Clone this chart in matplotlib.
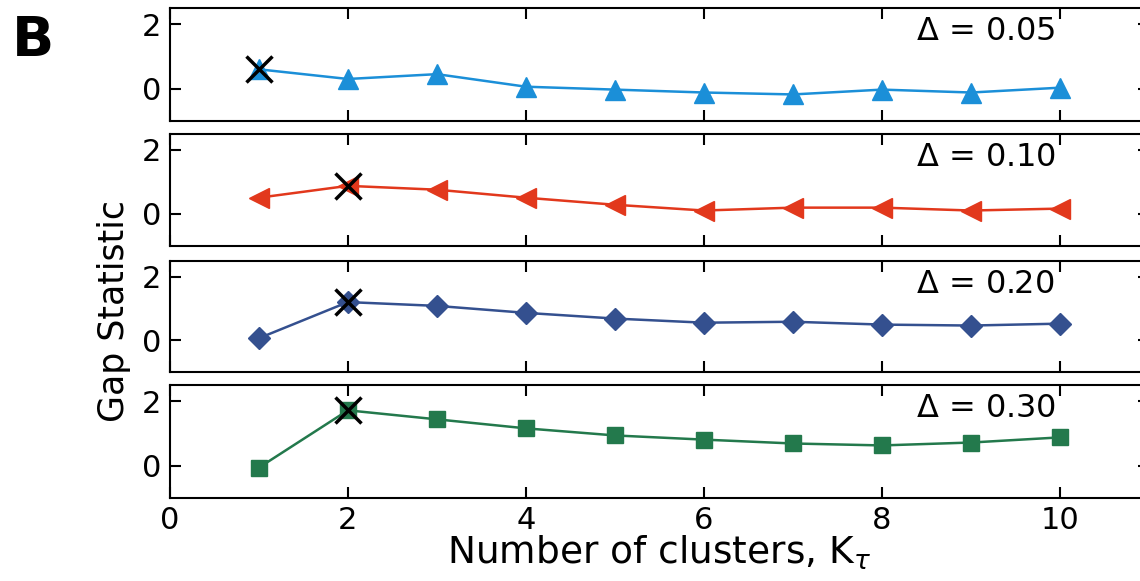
import matplotlib
matplotlib.use("Agg")
import matplotlib.pyplot as plt

plt.rcParams['font.family'] = ['DejaVu Sans']

# --- data ---
k = [1, 2, 3, 4, 5, 6, 7, 8, 9, 10]
gap_005 = [0.60, 0.30, 0.45, 0.06, -0.03, -0.12, -0.18, -0.03, -0.12, 0.03]
gap_010 = [0.50, 0.87, 0.75, 0.50, 0.28, 0.10, 0.19, 0.19, 0.10, 0.16]
gap_020 = [0.06, 1.20, 1.08, 0.86, 0.68, 0.55, 0.58, 0.49, 0.46, 0.52]
gap_030 = [-0.06, 1.72, 1.44, 1.16, 0.94, 0.81, 0.69, 0.63, 0.72, 0.88]
best_k = [1, 2, 2, 2]
deltas = ['0.05', '0.10', '0.20', '0.30']

series = [gap_005, gap_010, gap_020, gap_030]
colors = ['#1b8fd8', '#e2381c', '#34508f', '#23794c']
markers = ['^', '<', 'D', 's']
msizes = [14, 14, 11, 12]

fig = plt.figure(figsize=(11.4, 5.81), dpi=100)

# panel boxes (left, bottom, width, height) - right side runs off the figure like the original crop
boxes = [
    (0.149, 0.792, 0.859, 0.194),
    (0.149, 0.577, 0.859, 0.193),
    (0.149, 0.360, 0.859, 0.191),
    (0.149, 0.143, 0.859, 0.194),
]

for i, (vals, col, mk, ms, box) in enumerate(zip(series, colors, markers, msizes, boxes)):
    ax = fig.add_axes(box)
    ax.plot(k, vals, color=col, marker=mk, markersize=ms, linewidth=1.8,
            markeredgecolor=col)
    b = best_k[i]
    ax.plot(b, vals[k.index(b)], marker='x', color='black', markersize=19,
            markeredgewidth=2.5, linestyle='none')
    ax.set_xlim(0, 11)
    ax.set_ylim(-1, 2.5)
    ax.set_yticks([0, 2])
    ax.set_xticks([0, 2, 4, 6, 8, 10])
    ax.tick_params(direction='in', length=8, width=1.5, top=True, right=True,
                   labelsize=22, pad=6)
    if i < 3:
        ax.tick_params(labelbottom=False)
    for s in ax.spines.values():
        s.set_linewidth(1.5)
    ax.text(0.762, 0.79, r'$\Delta$ = ' + deltas[i], transform=ax.transAxes,
            fontsize=23, ha='left', va='center')

fig.text(0.100, 0.465, 'Gap Statistic', rotation=90, fontsize=25,
         ha='center', va='center')
fig.text(0.578, 0.048, r'Number of clusters, K$_\tau$', fontsize=27,
         ha='center', va='center')
fig.text(0.010, 0.93, 'B', fontsize=40, fontweight='bold', ha='left', va='center')

fig.savefig('out.png', dpi=100)
